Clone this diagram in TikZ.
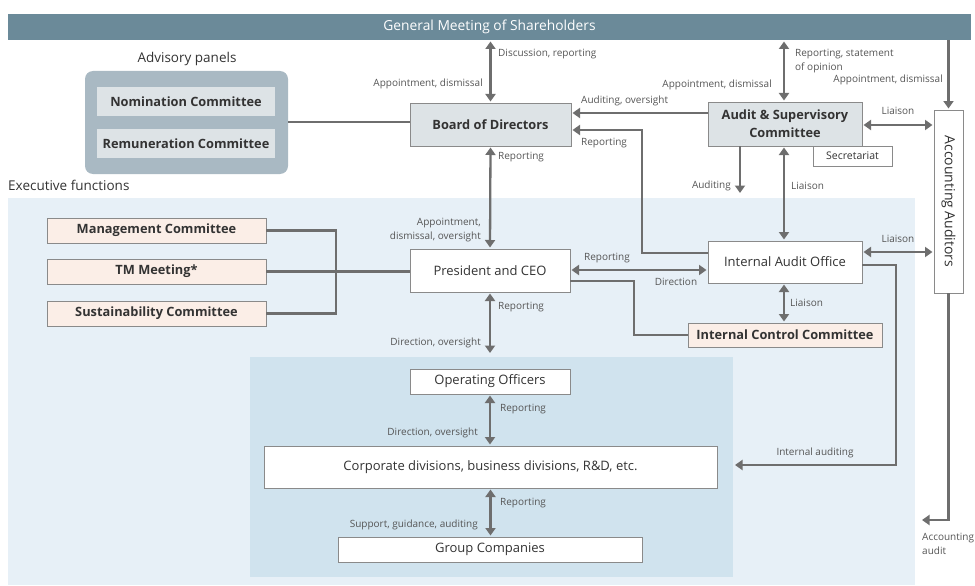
\documentclass[tikz,border=0pt]{standalone}
\usepackage{fontspec}
\setmainfont{Open Sans}
\usetikzlibrary{arrows.meta}
\definecolor{barc}{HTML}{6B8A99}
\definecolor{advc}{HTML}{A9B9C3}
\definecolor{greyfill}{HTML}{DDE3E6}
\definecolor{execbg}{HTML}{E7F0F7}
\definecolor{innerbg}{HTML}{D0E3EE}
\definecolor{peach}{HTML}{FBEEE7}
\definecolor{arrc}{HTML}{6E6E6E}
\definecolor{labc}{HTML}{555555}
\definecolor{boxtext}{HTML}{333333}
\definecolor{borderc}{HTML}{8A8A8A}
\tikzset{
  box/.style={draw=borderc, line width=0.8pt, fill=white, outer sep=0pt, inner sep=1pt, text=boxtext, font=\fontsize{13}{18}\selectfont, align=center},
  greybox/.style={box, fill=greyfill, font=\fontsize{12.8}{18}\selectfont\bfseries},
  peachbox/.style={box, fill=peach, font=\fontsize{12.8}{18}\selectfont\bfseries},
  lab/.style={text=labc, font=\fontsize{10}{14}\selectfont, inner sep=0pt},
  conn/.style={draw=arrc, line width=2.3pt},
  arr/.style={conn, -{Triangle[length=7.5pt,width=10pt]}},
  dbl/.style={conn, {Triangle[length=7.5pt,width=10pt]}-{Triangle[length=7.5pt,width=10pt]}},
}
\begin{document}
\begin{tikzpicture}[x=1pt,y=-1pt]
\useasboundingbox (0,0) rectangle (975,586);
% backgrounds
\fill[execbg] (8,198) rectangle (915,585);
\fill[innerbg] (250,357) rectangle (733,577);
% top bar
\node[fill=barc, minimum width=963pt, minimum height=26pt, inner sep=0pt, outer sep=0pt, text=white, font=\fontsize{13.8}{16}\selectfont] (gm) at (489.5,27) {General Meeting of Shareholders};
% advisory
\node[text=boxtext, font=\fontsize{13.5}{16}\selectfont] (advlab) at (187,59) {Advisory panels};
\node[fill=advc, rounded corners=8pt, minimum width=203pt, minimum height=103pt, outer sep=0pt] (adv) at (186.5,122.5) {};
\node[greybox, draw=none, minimum width=178pt, minimum height=29pt] (nom) at (186,101.5) {Nomination Committee};
\node[greybox, draw=none, minimum width=178pt, minimum height=29pt] (rem) at (186,143.5) {Remuneration Committee};
\node[text=boxtext, font=\fontsize{13.5}{16}\selectfont, anchor=west, inner sep=0pt] (execlab) at (8,185) {Executive functions};
% main boxes
\node[greybox, minimum width=161pt, minimum height=43pt] (bod) at (490.5,124.5) {Board of Directors};
\node[greybox, minimum width=154pt, minimum height=44pt] (asc) at (785,124) {Audit \& Supervisory\\Committee};
\node[box, minimum width=79pt, minimum height=20pt, font=\fontsize{10.5}{12}\selectfont] (sec) at (852.5,156) {Secretariat};
\node[box, minimum width=29pt, minimum height=183pt] (aa) at (948.5,201.5) {};
\node[text=boxtext, font=\fontsize{14}{16}\selectfont, rotate=-90] (aatext) at (aa.center) {Accounting Auditors};
\node[box, minimum width=160pt, minimum height=43pt] (pres) at (490,270.5) {President and CEO};
\node[box, minimum width=154pt, minimum height=42pt] (iao) at (785,262) {Internal Audit Office};
\node[peachbox, minimum width=194pt, minimum height=24pt] (icc) at (785,335) {Internal Control Committee};
\node[peachbox, minimum width=219pt, minimum height=25pt] (mc) at (156.5,230.5) {Management Committee};
\node[peachbox, minimum width=219pt, minimum height=25pt] (tm) at (156.5,271.5) {TM Meeting*};
\node[peachbox, minimum width=219pt, minimum height=25pt] (sc) at (156.5,313.5) {Sustainability Committee};
\node[box, minimum width=160pt, minimum height=25pt] (oo) at (490,381.5) {Operating Officers};
\node[box, minimum width=453pt, minimum height=42pt] (corp) at (490.5,467) {Corporate divisions, business divisions, R\&D, etc.};
\node[box, minimum width=304pt, minimum height=25pt] (gc) at (490,549.5) {Group Companies};
% free ends
\coordinate (presTip) at (490,353);
\coordinate (audTip) at (740,193);
\coordinate (iaTip) at (735,465);
\coordinate (acTip) at (922,520);
\coordinate (repX) at (642,130);
\coordinate (iccX) at (634,335);
\coordinate (iaX) at (896,465);
\coordinate (comX) at (336,271);
% connectors
\draw[conn] (adv.east |- 0,122) -- (bod.west |- 0,122);
\draw[conn] (mc.east) -- (comX |- mc.east) -- (comX |- sc.east) -- (sc.east);
\draw[conn] (tm.east) -- (pres.west |- tm.east);
\draw[dbl, shorten <=1.5pt, shorten >=1.5pt] (bod.north) -- (bod.north |- gm.south);
\draw[dbl, shorten <=1.5pt, shorten >=1.5pt] (bod.south) -- (pres.north);
\draw[dbl, shorten <=1.5pt] (pres.south) -- (presTip);
\draw[dbl, shorten <=1.5pt, shorten >=1.5pt] (oo.south) -- (oo.south |- corp.north);
\draw[dbl, shorten <=1.5pt, shorten >=1.5pt] (corp.south |- 0,488) -- (corp.south |- gc.north);
\draw[arr, shorten >=1.5pt] (asc.west |- 0,113) -- (bod.east |- 0,113);
\draw[arr, shorten >=1.5pt] (iao.west |- 0,253) -- (repX |- 0,253) -- (repX) -- (bod.east |- repX);
\draw[dbl, shorten <=1.5pt, shorten >=1.5pt] (asc.north -| 784,0) -- (gm.south -| 784,0);
\draw[arr, shorten >=1.5pt] (gm.south -| aa.north) -- (aa.north);
\draw[dbl, shorten <=1.5pt, shorten >=1.5pt] (asc.east |- 0,125) -- (aa.west |- 0,125);
\draw[arr] (asc.south -| audTip) -- (audTip);
\draw[dbl, shorten <=1.5pt, shorten >=1.5pt] (asc.south -| 784,0) -- (iao.north -| 784,0);
\draw[dbl, shorten <=1.5pt, shorten >=1.5pt] (iao.east |- 0,252) -- (aa.west |- 0,252);
\draw[dbl, shorten <=1.5pt, shorten >=1.5pt] (pres.east |- 0,270) -- (iao.west |- 0,270);
\draw[conn] (pres.east |- 0,281) -- (iccX |- 0,281) -- (iccX) -- (icc.west);
\draw[dbl, shorten <=1.5pt, shorten >=1.5pt] (iao.south -| 784,0) -- (icc.north -| 784,0);
\draw[arr] (iao.east |- 0,265) -- (iaX |- 0,265) -- (iaX) -- (iaTip);
\draw[arr] (aa.south) -- (aa.south |- acTip) -- (acTip);
% labels
\node[lab, anchor=west] (l1) at (498,54) {Discussion, reporting};
\node[lab, anchor=east] (l2) at (483,84) {Appointment, dismissal};
\node[lab, anchor=west] (l3) at (498,157) {Reporting};
\node[lab, anchor=east, align=right] (l4) at (481,230) {Appointment,\\dismissal, oversight};
\node[lab, anchor=west] (l5) at (498,307) {Reporting};
\node[lab, anchor=east] (l6) at (481,343) {Direction, oversight};
\node[lab, anchor=west] (l7) at (500,409) {Reporting};
\node[lab, anchor=east] (l8) at (478,433) {Direction, oversight};
\node[lab, anchor=west] (l9) at (500,503) {Reporting};
\node[lab, anchor=east] (l10) at (478,525) {Support, guidance, auditing};
\node[lab, anchor=west] (l11) at (581,101) {Auditing, oversight};
\node[lab, anchor=west] (l12) at (581,143) {Reporting};
\node[lab, anchor=west, align=left] (l13) at (795,61) {Reporting, statement\\of opinion};
\node[lab, anchor=east] (l14) at (772,85) {Appointment, dismissal};
\node[lab, anchor=east] (l15) at (943,80) {Appointment, dismissal};
\node[lab] (l16) at (898,111) {Liaison};
\node[lab, anchor=east] (l17) at (731,186) {Auditing};
\node[lab, anchor=west] (l18) at (791,186) {Liaison};
\node[lab] (l19) at (898,239) {Liaison};
\node[lab] (l20) at (607,258) {Reporting};
\node[lab] (l21) at (676,282) {Direction};
\node[lab, anchor=west] (l22) at (790,303) {Liaison};
\node[lab] (l23) at (815,453) {Internal auditing};
\node[lab, anchor=west, align=left] (l24) at (922,544) {Accounting\\audit};
\end{tikzpicture}
\end{document}
